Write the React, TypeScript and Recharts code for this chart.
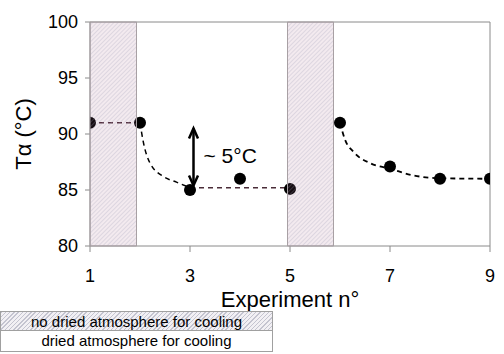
import {
  ComposedChart,
  Line,
  Scatter,
  XAxis,
  YAxis,
  ReferenceArea,
  ReferenceLine,
} from "recharts";

const experiments = [1, 2, 3, 4, 5, 6, 7, 8, 9];
const talpha = [91, 91, 85, 86, 85.1, 91, 87.1, 86, 86];

// dashed guide curves
const flatBeforeX = [1, 2];
const flatBeforeY = [91, 91];
const decayAX = [2, 2.07, 2.2, 2.47, 2.73, 3];
const decayAY = [91, 89.2, 87.4, 86.2, 85.7, 85.2];
const flatAfterX = [3, 5];
const flatAfterY = [85.2, 85.2];
const decayBX = [6, 6.1, 6.27, 6.6, 7, 7.47, 8, 9];
const decayBY = [91, 89.5, 88.4, 87.4, 86.9, 86.3, 86.05, 86];

const bandStarts = [1, 4.95];
const bandEnds = [1.93, 5.87];

const xTicks = [1, 3, 5, 7, 9];
const yTicks = [80, 85, 90, 95, 100];

const legendLabels = ["no dried atmosphere for cooling", "dried atmosphere for cooling"];

const FONT = "'Liberation Sans', Arial, sans-serif";
const AXIS = "#8a8a8a";

const toPoints = (xs: number[], ys: number[]) => xs.map((x, i) => ({ x, y: ys[i] }));

const points = toPoints(experiments, talpha);
const flatBefore = toPoints(flatBeforeX, flatBeforeY);
const decayA = toPoints(decayAX, decayAY);
const flatAfter = toPoints(flatAfterX, flatAfterY);
const decayB = toPoints(decayBX, decayBY);

const ArrowShape = (p: any) => {
  const { x1, y1, y2 } = p;
  const top = Math.min(y1, y2);
  const bottom = Math.max(y1, y2);
  return (
    <g>
      <line x1={x1} y1={top} x2={x1} y2={bottom} stroke="#000" strokeWidth={2.5} />
      <polyline points={`${x1 - 4.5},${top + 10} ${x1},${top} ${x1 + 4.5},${top + 10}`} fill="none" stroke="#000" strokeWidth={2.5} />
      <polyline points={`${x1 - 4.5},${bottom - 10} ${x1},${bottom} ${x1 + 4.5},${bottom - 10}`} fill="none" stroke="#000" strokeWidth={2.5} />
      <text x={x1 + 10} y={(top + bottom) / 2 + 6} fontSize={21} fontFamily={FONT} fill="#000">
        ~ 5°C
      </text>
    </g>
  );
};

const Dot = (p: any) => <circle cx={p.cx} cy={p.cy} r={6} fill="#000" />;

const hatchCss = "repeating-linear-gradient(135deg, #c4c4d0 0px, #c4c4d0 1px, #f2f0f4 1px, #f2f0f4 3px)";

export default function App() {
  return (
    <div style={{ position: "absolute", left: 0, top: 0, width: 504, height: 354, background: "#fff" }}>
      <svg width={0} height={0} style={{ position: "absolute" }}>
        <defs>
          <pattern id="hatch" width={3} height={3} patternUnits="userSpaceOnUse" patternTransform="rotate(45)">
            <rect width={3} height={3} fill="#a06080" fillOpacity={0.13} />
            <line x1={0} y1={0} x2={0} y2={3} stroke="#9c9cb4" strokeOpacity={0.5} strokeWidth={1} />
          </pattern>
        </defs>
      </svg>
      <ComposedChart width={504} height={354} margin={{ top: 22, right: 14, bottom: 48, left: 0 }}>
        <XAxis
          dataKey="x"
          type="number"
          domain={[1, 9]}
          ticks={xTicks}
          allowDataOverflow
          height={60}
          stroke={AXIS}
          tickSize={6}
          tickMargin={17}
          tick={{ fill: "#000", fontSize: 18, fontFamily: FONT }}
          label={{
            content: () => (
              <text x={290} y={307} textAnchor="middle" fontSize={22} fontFamily={FONT} fill="#000">
                Experiment n°
              </text>
            ),
          }}
        />
        <YAxis
          dataKey="y"
          type="number"
          domain={[80, 100]}
          ticks={yTicks}
          allowDataOverflow
          width={90}
          stroke={AXIS}
          tickSize={5}
          tickMargin={7}
          tick={{ fill: "#000", fontSize: 18, fontFamily: FONT }}
          label={{
            content: () => (
              <text
                x={23}
                y={134}
                transform="rotate(-90, 23, 134)"
                textAnchor="middle"
                dominantBaseline="central"
                fontSize={22}
                fontFamily={FONT}
                fill="#000"
              >
                Tα (°C)
              </text>
            ),
          }}
        />
        <ReferenceLine y={100} stroke={AXIS} />
        <ReferenceLine x={9} stroke={AXIS} />
        <Line data={flatBefore} dataKey="y" type="linear" stroke="#4a2c38" strokeWidth={1.5} strokeDasharray="5 4" dot={false} isAnimationActive={false} />
        <Line data={decayA} dataKey="y" type="monotone" stroke="#000" strokeWidth={1.5} strokeDasharray="5 4" dot={false} isAnimationActive={false} />
        <Line data={flatAfter} dataKey="y" type="linear" stroke="#4a2c38" strokeWidth={1.5} strokeDasharray="5 4" dot={false} isAnimationActive={false} />
        <Line data={decayB} dataKey="y" type="monotone" stroke="#000" strokeWidth={1.8} strokeDasharray="5 4" dot={false} isAnimationActive={false} />
        <Scatter data={points} dataKey="y" shape={Dot} isAnimationActive={false} />
        {bandStarts.map((s, i) => (
          <ReferenceArea
            key={i}
            x1={s}
            x2={bandEnds[i]}
            y1={80}
            y2={100}
            fill="url(#hatch)"
            fillOpacity={1}
            stroke="#a8a0a4"
            strokeWidth={1}
            zIndex={1000}
          />
        ))}
        <ReferenceLine segment={[{ x: 3.07, y: 90.5 }, { x: 3.07, y: 85.4 }]} shape={ArrowShape} />
      </ComposedChart>
      {legendLabels.map((t, i) => (
        <div
          key={t}
          style={{
            position: "absolute",
            left: 0,
            top: 311 + i * 20,
            width: 273,
            height: i === 0 ? 20 : 21,
            boxSizing: "border-box",
            border: "1px solid #a0a0a0",
            borderTop: i === 0 ? "1px solid #a0a0a0" : "none",
            background: i === 0 ? hatchCss : "#fff",
            fontFamily: FONT,
            fontSize: 15,
            lineHeight: "19px",
            textAlign: "center",
            color: "#000",
            whiteSpace: "nowrap",
          }}
        >
          {t}
        </div>
      ))}
    </div>
  );
}
